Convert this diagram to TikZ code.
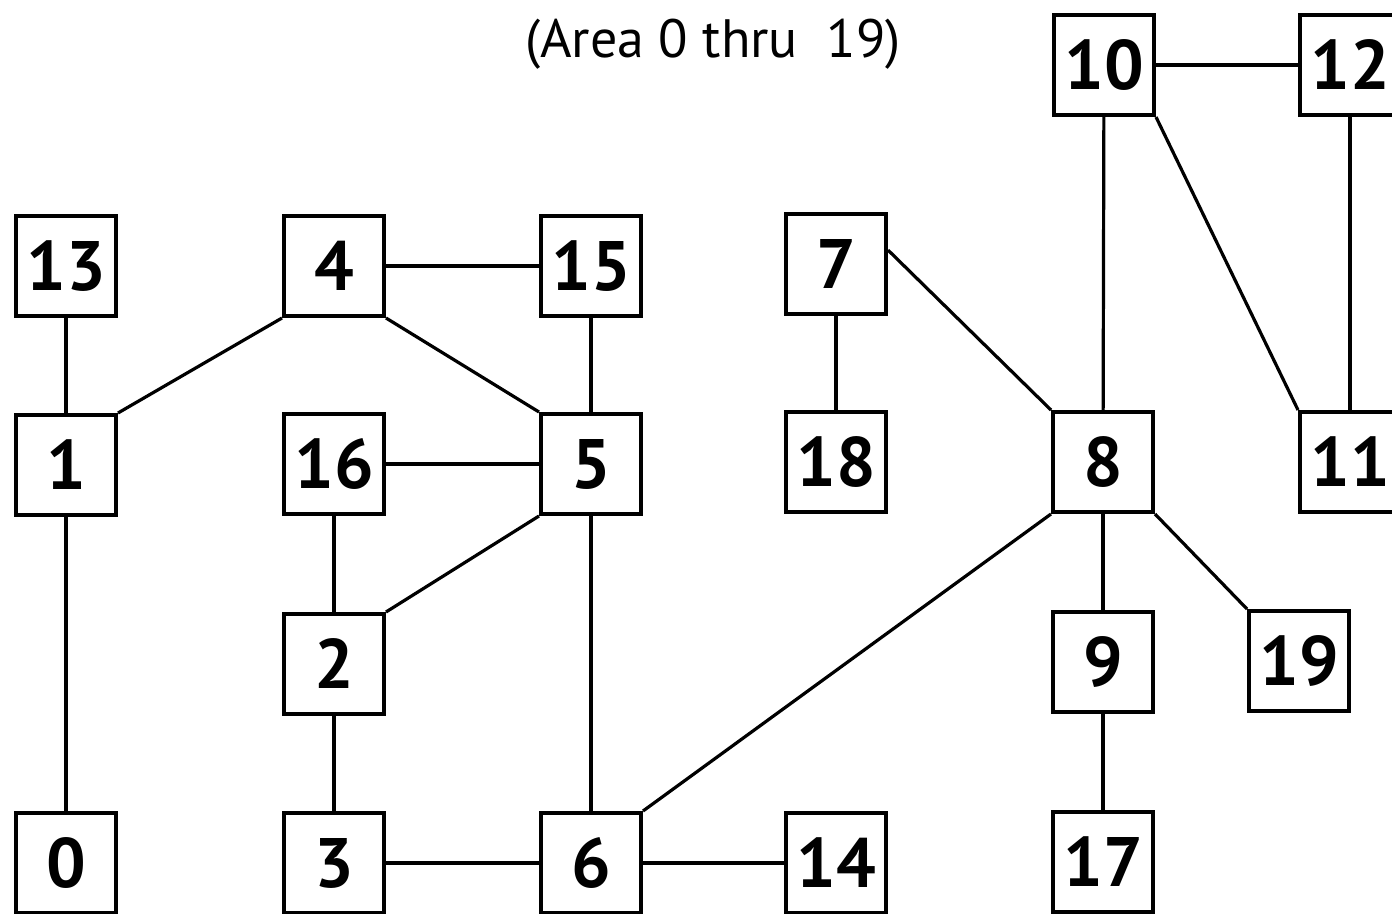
\documentclass[tikz,border=0pt]{standalone}
\usepackage{fontspec}
\setmainfont{PT Sans}
\usetikzlibrary{positioning}

\begin{document}
\begin{tikzpicture}[x=1pt,y=-1pt,inner sep=0pt,
  area/.style={draw,fill=white,line width=4pt,minimum size=100pt,
    font=\fontsize{70}{70}\selectfont\bfseries},
  link/.style={line width=3.2pt}]

\useasboundingbox (0,0) rectangle (1392,913);

\node (title) at (713,44) {\fontsize{54}{54}\selectfont (Area 0 thru\ \ 19)};

% top row
\node (n10) at (1104,65) [area] {10};
\node (n12) at (1350,65) [area] {12};

% row 1
\node (n13) at (66,266) [area] {13};
\node (n4) at (334,266) [area] {4};
\node (n15) at (591,266) [area] {15};
\node (n7) at (836,264) [area] {7};

% row 2
\node (n1) at (66,465) [area] {1};
\node (n16) at (334,464) [area] {16};
\node (n5) at (591,464) [area] {5};
\node (n18) at (836,462) [area] {18};
\node (n8) at (1103,462) [area] {8};
\node (n11) at (1350,462) [area] {11};

% row 3
\node (n2) at (334,664) [area] {2};
\node (n9) at (1103,662) [area] {9};
\node (n19) at (1299,661) [area] {19};

% row 4
\node (n0) at (66,863) [area] {0};
\node (n3) at (334,863) [area] {3};
\node (n6) at (591,863) [area] {6};
\node (n14) at (836,863) [area] {14};
\node (n17) at (1103,862) [area] {17};

\draw[link] (n13) -- (n1);
\draw[link] (n1) -- (n0);
\draw[link] (n1.north east) -- (n4.south west);
\draw[link] (n4) -- (n15);
\draw[link] (n4.south east) -- (n5.north west);
\draw[link] (n15) -- (n5);
\draw[link] (n16) -- (n5);
\draw[link] (n16) -- (n2);
\draw[link] (n2.north east) -- (n5.south west);
\draw[link] (n2) -- (n3);
\draw[link] (n5) -- (n6);
\draw[link] (n3) -- (n6);
\draw[link] (n6) -- (n14);
\draw[link] (n6.north east) -- (n8.south west);
\draw[link] (n7) -- (n18);
\draw[link] (n7.15) -- (n8.north west);
\draw[link] (n10) -- (n12);
\draw[link] (n10) -- (n8);
\draw[link] (n10.south east) -- (n11.north west);
\draw[link] (n12) -- (n11);
\draw[link] (n8) -- (n9);
\draw[link] (n8.south east) -- (n19.north west);
\draw[link] (n9) -- (n17);

\end{tikzpicture}
\end{document}
